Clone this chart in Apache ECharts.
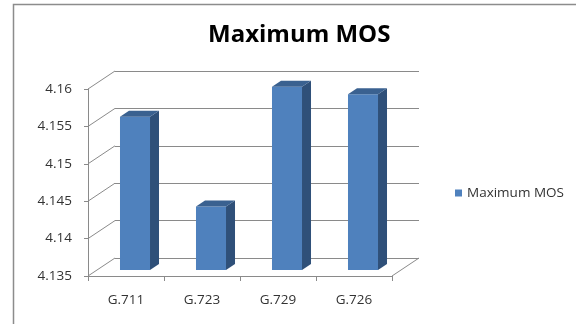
<!DOCTYPE html>
<html>
<head>
<meta charset="utf-8">
<script src="https://cdn.jsdelivr.net/npm/echarts@6/dist/echarts.min.js"></script>
<style>html,body{margin:0;padding:0;background:#fff}#c{width:576px;height:324px}</style>
</head>
<body>
<div id="c"></div>
<script>
const categories = ['G.711', 'G.723', 'G.729', 'G.726'];
const seriesName = 'Maximum MOS';
const values = [4.1555, 4.1435, 4.1595, 4.1585];
const yTicks = [4.135, 4.14, 4.145, 4.15, 4.155, 4.16];

const yMin = yTicks[0], yMax = yTicks[yTicks.length - 1], yStep = 0.005;
const DX = 27, DY = -18;          // depth of the 3D box
const FONT = 'Open Sans';
const TXT = '#333333';
const GRID = '#8a8a8a';

const chart = echarts.init(document.getElementById('c'), null, {renderer: 'canvas'});
chart.setOption({
  animation: false,
  backgroundColor: '#fff',
  title: {
    text: 'Maximum MOS', left: 203, top: 18,
    textStyle: {fontFamily: FONT, fontSize: 24, fontWeight: 'bold', color: '#000'}
  },
  legend: {
    data: [seriesName], left: 450, top: 181, icon: 'rect', itemWidth: 7, itemHeight: 7, itemGap: 4,
    textStyle: {fontFamily: FONT, fontSize: 13.5, color: TXT}
  },
  graphic: [{
    type: 'rect', shape: {x: 13.5, y: 4.5, width: 700, height: 500},
    style: {fill: 'none', stroke: '#8c8c8c', lineWidth: 1.5}, z: -10
  }],
  grid: [
    {left: 88, right: 576 - 392, top: 89, bottom: 324 - 276},
    {left: 88 + DX, right: 576 - 392 - DX, top: 89 + DY, bottom: 324 - 276 - DY}
  ],
  xAxis: [
    {type: 'category', gridIndex: 0, data: categories, boundaryGap: true,
     axisLine: {lineStyle: {color: GRID, width: 1}},
     axisTick: {show: true, length: 5, lineStyle: {color: GRID}},
     axisLabel: {fontFamily: FONT, fontSize: 13.5, color: TXT, margin: 17}},
    {type: 'category', gridIndex: 1, data: categories, show: false}
  ],
  yAxis: [
    {type: 'value', gridIndex: 0, min: yMin, max: yMax, interval: yStep,
     axisLine: {show: true, lineStyle: {color: GRID, width: 1}},
     axisTick: {show: true, length: 4, lineStyle: {color: GRID}},
     splitLine: {show: false},
     axisLabel: {fontFamily: FONT, fontSize: 13.5, color: TXT, margin: 16,
       formatter: v => String(+v.toFixed(3))}},
    {type: 'value', gridIndex: 1, min: yMin, max: yMax, interval: yStep,
     axisLine: {show: false}, axisTick: {show: false}, axisLabel: {show: false},
     splitLine: {show: true, lineStyle: {color: GRID, width: 1}}}
  ],
  series: [
    {
      type: 'custom', name: 'diag', xAxisIndex: 0, yAxisIndex: 0, silent: true, z: 1,
      data: yTicks.map(v => [0, v]),
      renderItem: (params, api) => {
        const band = api.size([1, 0])[0];
        const p = api.coord([0, api.value(1)]);
        const x = p[0] - band / 2;
        const children = [{type: 'line', shape: {x1: x, y1: p[1], x2: x + DX, y2: p[1] + DY},
          style: {stroke: GRID, lineWidth: 1}}];
        if (params.dataIndex === 0) {
          const q = api.coord([categories.length - 1, api.value(1)]);
          const xr = q[0] + band / 2;
          children.push({type: 'line', shape: {x1: xr, y1: q[1], x2: xr + DX, y2: q[1] + DY},
            style: {stroke: GRID, lineWidth: 1}});
        }
        return {type: 'group', children};
      }
    },
    {
      type: 'custom', name: seriesName, xAxisIndex: 0, yAxisIndex: 0, z: 5,
      itemStyle: {color: '#4F81BD'},
      data: values.map((v, i) => [i, v]),
      renderItem: (params, api) => {
        const i = api.value(0);
        const band = api.size([1, 0])[0];
        const c = api.coord([i, api.value(1)]);
        const b = api.coord([i, yMin]);
        const w = band * 0.395;
        const fx = DX / 3, fy = DY / 3;
        const x0 = c[0] - w / 2 + fx;
        const top = c[1] + fy, bot = b[1] + fy;
        return {type: 'group', children: [
          {type: 'rect', shape: {x: x0, y: top, width: w, height: bot - top},
           style: {fill: '#4F81BD'}},
          {type: 'polygon', shape: {points: [[x0 + w, top], [x0 + w + fx, top + fy], [x0 + w + fx, bot + fy], [x0 + w, bot]]},
           style: {fill: '#2F5079'}},
          {type: 'polygon', shape: {points: [[x0, top], [x0 + fx, top + fy], [x0 + w + fx, top + fy], [x0 + w, top]]},
           style: {fill: '#3A6190'}}
        ]};
      }
    }
  ]
});
</script>
</body>
</html>
